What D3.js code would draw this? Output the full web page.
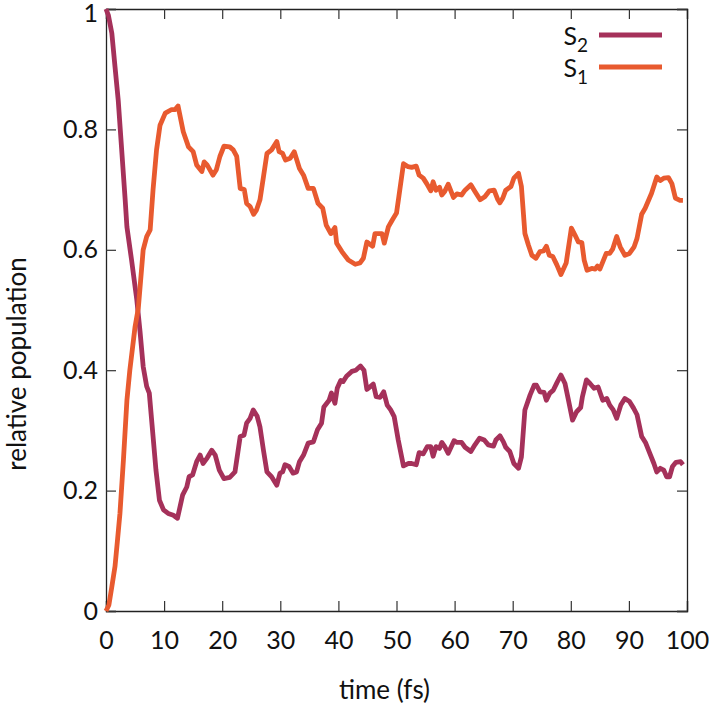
<!DOCTYPE html>
<html>
<head>
<meta charset="utf-8">
<script src="https://cdn.jsdelivr.net/npm/d3@7"></script>
<style>
    body { margin: 0; background: #fff; }
    text { font-family: Lato, "Open Sans", sans-serif; fill: #111; }
</style>
</head>
<body>
<div id="chart"></div>
<script>

// S2 population
const s2Time = [0, 0.4, 1.0, 1.55, 2.1, 2.7, 3.3, 3.6, 4.4, 5.3, 5.85, 6.4, 7.0, 7.45, 8.0, 8.6, 9.2, 9.9, 10.7, 11.6,
    12.3, 13.2, 13.9, 14.3, 14.9, 15.6, 16.2, 16.7, 17.4, 18.2, 18.8, 19.5, 20.3, 21.3, 22.2, 23.1, 23.75, 24.2, 24.8, 25.35,
    26.0, 26.5, 27.1, 27.7, 28.5, 29.4, 29.95, 30.4, 30.8, 31.5, 32.2, 32.8, 33.3, 34.0, 34.8, 35.7, 36.4, 37.1, 37.5, 38.4,
    38.8, 39.4, 39.8, 40.4, 40.8, 41.4, 42.3, 43.0, 43.8, 44.4, 44.9, 45.4, 46.0, 46.5, 47.2, 47.8, 48.4, 49.0, 49.6, 50.3,
    51.2, 52.0, 52.6, 53.4, 53.9, 54.6, 55.3, 55.9, 56.3, 56.8, 57.4, 57.8, 58.3, 58.9, 59.9, 60.4, 61.2, 61.8, 62.8, 63.5,
    64.3, 65.1, 65.8, 66.7, 67.1, 67.8, 68.4, 68.8, 69.5, 70.2, 71.0, 71.5, 72.1, 73.0, 73.7, 74.1, 74.7, 75.4, 75.8, 76.4,
    77.0, 77.6, 78.3, 79.0, 79.6, 80.3, 81.0, 81.7, 82.0, 82.7, 83.3, 84.0, 84.7, 85.5, 86.2, 86.7, 87.3, 87.9, 88.6, 89.3,
    90.1, 90.8, 91.4, 92.2, 92.9, 93.6, 94.3, 94.8, 95.4, 96.0, 96.5, 97.0, 97.5, 98.1, 98.9, 99.3];
const s2Pop = [1.0, 0.99, 0.96, 0.904, 0.849, 0.766, 0.683, 0.638, 0.583, 0.517, 0.465, 0.406, 0.373, 0.362, 0.301, 0.234, 0.184, 0.168, 0.162, 0.159,
    0.154, 0.193, 0.206, 0.223, 0.226, 0.248, 0.259, 0.245, 0.254, 0.267, 0.259, 0.234, 0.220, 0.222, 0.231, 0.290, 0.292, 0.312, 0.320, 0.334,
    0.324, 0.306, 0.267, 0.231, 0.223, 0.209, 0.229, 0.231, 0.243, 0.240, 0.229, 0.231, 0.248, 0.259, 0.279, 0.281, 0.301, 0.312, 0.339, 0.350,
    0.362, 0.345, 0.370, 0.383, 0.381, 0.390, 0.398, 0.400, 0.407, 0.400, 0.368, 0.372, 0.377, 0.356, 0.355, 0.364, 0.342, 0.334, 0.323, 0.284,
    0.241, 0.245, 0.245, 0.243, 0.263, 0.261, 0.273, 0.273, 0.257, 0.273, 0.270, 0.280, 0.273, 0.262, 0.283, 0.280, 0.280, 0.272, 0.265, 0.276,
    0.287, 0.284, 0.276, 0.274, 0.284, 0.291, 0.281, 0.272, 0.265, 0.245, 0.237, 0.256, 0.334, 0.359, 0.375, 0.375, 0.364, 0.363, 0.350, 0.362,
    0.367, 0.379, 0.392, 0.378, 0.350, 0.317, 0.331, 0.338, 0.356, 0.384, 0.378, 0.370, 0.372, 0.350, 0.353, 0.342, 0.334, 0.320, 0.342, 0.353,
    0.348, 0.337, 0.326, 0.290, 0.279, 0.262, 0.245, 0.231, 0.237, 0.234, 0.223, 0.223, 0.240, 0.247, 0.248, 0.243];

// S1 population
const s1Time = [0, 0.5, 1.0, 1.55, 2.0, 2.4, 3.0, 3.6, 4.1, 5.0, 5.56, 6.4, 7.0, 7.6, 8.1, 8.7, 9.3, 10.2, 11.3, 11.9,
    12.4, 13.3, 14.2, 15.0, 15.6, 16.5, 16.9, 17.4, 18.4, 19.0, 19.6, 20.3, 21.3, 21.9, 22.5, 23.1, 23.8, 24.2, 24.8, 25.4,
    25.9, 26.5, 27.1, 27.7, 28.5, 29.4, 29.8, 30.4, 30.9, 31.7, 32.4, 33.3, 34.0, 34.8, 35.7, 36.5, 37.3, 37.9, 38.7, 39.4,
    39.7, 40.6, 41.7, 42.9, 43.7, 44.3, 44.9, 45.9, 46.3, 47.5, 47.9, 48.6, 49.3, 50.0, 50.4, 51.2, 52.0, 52.6, 53.4, 53.9,
    54.6, 55.2, 55.9, 56.3, 56.8, 57.4, 57.8, 58.3, 58.9, 59.8, 60.4, 61.2, 61.8, 62.8, 63.5, 64.4, 65.2, 66.0, 66.8, 67.4,
    67.8, 68.3, 68.8, 69.7, 70.2, 71.0, 71.5, 72.1, 72.7, 73.3, 74.0, 74.7, 75.3, 75.8, 76.3, 76.9, 77.6, 78.3, 79.2, 80.1,
    80.7, 81.3, 81.9, 82.3, 82.8, 83.6, 84.2, 84.6, 85.0, 86.1, 86.7, 87.2, 87.9, 88.5, 89.3, 90.1, 90.9, 91.4, 92.2, 92.8,
    93.9, 94.8, 95.4, 96.0, 96.8, 97.4, 98.0, 98.8, 99.3];
const s1Pop = [0, 0.01, 0.04, 0.074, 0.12, 0.162, 0.251, 0.350, 0.400, 0.472, 0.503, 0.600, 0.622, 0.633, 0.700, 0.766, 0.807, 0.827, 0.833, 0.833,
    0.839, 0.796, 0.771, 0.763, 0.741, 0.730, 0.746, 0.741, 0.724, 0.733, 0.755, 0.772, 0.771, 0.766, 0.755, 0.702, 0.700, 0.677, 0.672, 0.659,
    0.666, 0.683, 0.721, 0.760, 0.766, 0.780, 0.763, 0.760, 0.749, 0.752, 0.763, 0.735, 0.724, 0.702, 0.702, 0.677, 0.669, 0.641, 0.627, 0.637,
    0.611, 0.597, 0.583, 0.576, 0.578, 0.586, 0.613, 0.606, 0.627, 0.627, 0.611, 0.638, 0.650, 0.661, 0.688, 0.743, 0.738, 0.737, 0.739, 0.724,
    0.719, 0.710, 0.698, 0.713, 0.699, 0.704, 0.691, 0.697, 0.709, 0.687, 0.693, 0.691, 0.699, 0.708, 0.697, 0.683, 0.688, 0.698, 0.699, 0.684,
    0.678, 0.686, 0.699, 0.705, 0.719, 0.727, 0.705, 0.627, 0.608, 0.591, 0.586, 0.597, 0.598, 0.606, 0.591, 0.589, 0.575, 0.559, 0.578, 0.636,
    0.625, 0.613, 0.612, 0.583, 0.566, 0.569, 0.568, 0.573, 0.568, 0.594, 0.594, 0.601, 0.622, 0.605, 0.591, 0.594, 0.605, 0.619, 0.659, 0.669,
    0.694, 0.721, 0.715, 0.719, 0.720, 0.710, 0.686, 0.682, 0.682];

const xTicks = [0, 10, 20, 30, 40, 50, 60, 70, 80, 90, 100];
const yTicks = [0, 0.2, 0.4, 0.6, 0.8, 1];

const seriesNames = ["S2", "S1"];
const seriesColors = ["#a5315a", "#e85a2f"];

// layout
let margin = {top: 9, right: 22, bottom: 95, left: 106};
let width = 709 - margin.left - margin.right;
let height = 706 - margin.top - margin.bottom;

let svg = d3.select("#chart").append("svg")
    .attr("width", 709)
    .attr("height", 706)
    .append("g")
    .attr("transform", `translate(${margin.left}, ${margin.top})`);

let x = d3.scaleLinear().domain([0, 100]).range([0, width]);
let y = d3.scaleLinear().domain([0, 1]).range([height, 0]);

let fmt = d3.format("~g");

// axes: gnuplot style, ticks pointing inward on all four sides
svg.append("g")
    .attr("class", "axis x-axis")
    .attr("transform", `translate(0, ${height})`)
    .call(d3.axisBottom(x).tickValues(xTicks).tickSize(-10).tickPadding(20).tickFormat(fmt));

svg.append("g")
    .attr("class", "axis x-axis-top")
    .call(d3.axisTop(x).tickValues(xTicks).tickSize(-10).tickFormat(""));

svg.append("g")
    .attr("class", "axis y-axis")
    .call(d3.axisLeft(y).tickValues(yTicks).tickSize(-10).tickPadding(8).tickFormat(fmt));

svg.append("g")
    .attr("class", "axis y-axis-right")
    .attr("transform", `translate(${width}, 0)`)
    .call(d3.axisRight(y).tickValues(yTicks).tickSize(-10).tickFormat(""));

svg.selectAll(".axis path").attr("stroke", "#222").attr("stroke-width", 1.3);
svg.selectAll(".axis line").attr("stroke", "#333").attr("stroke-width", 1.2);
svg.selectAll(".axis text").style("font-size", "25px").style("font-family", "Lato, sans-serif").attr("fill", "#111");
// keep the top label inside the page
svg.select(".y-axis").selectAll(".tick text").filter(d => d === 1).attr("dy", "0.5em");

// axis titles
svg.append("text")
    .attr("x", width / 2 - 12)
    .attr("y", height + 88)
    .attr("text-anchor", "middle")
    .style("font-size", "26px")
    .text("time (fs)");

svg.append("text")
    .attr("transform", `translate(-80, ${height / 2 + 54}) rotate(-90)`)
    .attr("text-anchor", "middle")
    .style("font-size", "26px")
    .text("relative population");

// lines
let line = d3.line()
    .x(d => x(d[0]))
    .y(d => y(d[1]));

let s2Data = s2Time.map((t, i) => [t, s2Pop[i]]);
let s1Data = s1Time.map((t, i) => [t, s1Pop[i]]);

[s2Data, s1Data].forEach((data, i) => {
    svg.append("path")
        .datum(data)
        .attr("fill", "none")
        .attr("stroke", seriesColors[i])
        .attr("stroke-width", 4.8)
        .attr("stroke-linejoin", "round")
        .attr("d", line);
});

// legend
let legend = svg.append("g")
    .attr("transform", `translate(${width - 88}, 26)`);

seriesNames.forEach((name, i) => {
    let row = legend.append("g").attr("transform", `translate(0, ${i * 32})`);
    let label = row.append("text")
        .attr("x", -11)
        .attr("y", 10)
        .attr("text-anchor", "end")
        .style("font-size", "25px");
    label.append("tspan").text(name[0]);
    label.append("tspan")
        .attr("dy", 7)
        .style("font-size", "19px")
        .text(name.slice(1));
    row.append("line")
        .attr("x1", 0)
        .attr("x2", 63)
        .attr("y1", 0)
        .attr("y2", 0)
        .attr("stroke", seriesColors[i])
        .attr("stroke-width", 4.8);
});

</script>
</body>
</html>
